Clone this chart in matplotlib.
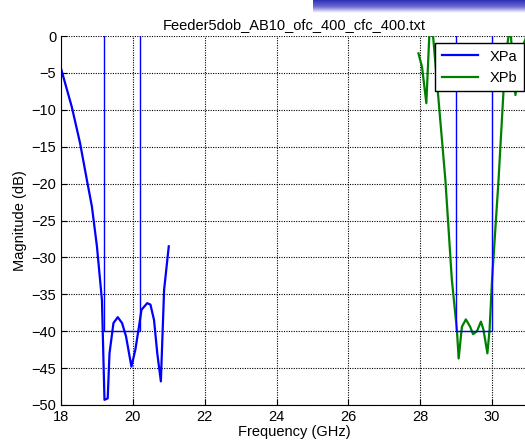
import numpy as np
import matplotlib.pyplot as plt

# XPa trace (GHz, dB)
freq_a = [18.0, 18.3, 18.53, 18.72, 18.86, 19.0, 19.14, 19.21, 19.30, 19.35, 19.46,
          19.58, 19.70, 19.81, 19.96, 20.07, 20.17, 20.24, 20.40, 20.49, 20.59,
          20.68, 20.78, 20.87, 21.0]
mag_a = [-4.4, -9.6, -14.5, -19.5, -23.1, -28.5, -35.8, -49.3, -49.1, -43.0, -38.9,
         -38.1, -38.9, -40.7, -44.8, -42.5, -39.4, -37.1, -36.2, -36.4, -38.5,
         -43.0, -46.8, -34.4, -28.5]

# XPb trace (GHz, dB)
freq_b = [27.95, 28.05, 28.17, 28.27, 28.34, 28.70, 28.88, 29.02, 29.07, 29.16, 29.27,
          29.39, 29.47, 29.58, 29.69, 29.76, 29.87, 29.93, 30.0, 30.18, 30.32,
          30.43, 30.5, 30.65, 30.86, 31.0]
mag_b = [-2.35, -4.2, -9.1, 2.0, 1.0, -19.5, -33.0, -39.8, -43.7, -39.4, -38.4,
         -39.4, -40.4, -40.0, -38.7, -39.8, -43.0, -39.8, -33.0, -19.5, -7.3,
         -1.0, 1.5, -8.0, -1.3, 0.5]

# mask templates
mask_lo = [(19.2, 20.2), (29.0, 30.0)]
mask_top = 0
mask_floor = -40

xticks = [18, 20, 22, 24, 26, 28, 30]
yticks = [0, -5, -10, -15, -20, -25, -30, -35, -40, -45, -50]

plt.rcParams['font.family'] = ['Liberation Sans', 'DejaVu Sans']

fig = plt.figure(figsize=(5.25, 4.43), dpi=100)

# window title bar fragment in top right
bar = fig.add_axes([313 / 525, 1 - 13 / 443, 212 / 525, 13 / 443])
grad = np.linspace(0, 1, 50).reshape(-1, 1)
bar.imshow(grad, aspect='auto', cmap=plt.cm.colors.LinearSegmentedColormap.from_list(
    'bar', ['#3030b8', '#6a6ad0', '#ffffff']), extent=[0, 1, 0, 1])
bar.axis('off')

ax = fig.add_axes([61 / 525, 1 - 405 / 443, 467 / 525, 369 / 443])

ax.plot(freq_a, mag_a, color=(0, 0, 1), lw=1.6, label='XPa')
ax.plot(freq_b, mag_b, color=(0, 0.5, 0), lw=1.6, label='XPb')

for f1, f2 in mask_lo:
    ax.plot([f1, f1, f2, f2], [mask_top, mask_floor, mask_floor, mask_top],
            color=(0, 0, 1), lw=1.0)

ax.set_xlim(18, 31)
ax.set_ylim(-50, 0)
ax.set_xticks(xticks)
ax.set_yticks(yticks)
ax.tick_params(direction='in', length=4, labelsize=10.5, top=False, right=False)
ax.spines['top'].set_visible(False)
ax.spines['right'].set_visible(False)
ax.grid(True, color='black', linestyle=(0, (1, 1.2)), lw=0.8)
ax.set_axisbelow(True)

ax.set_title('Feeder5dob_AB10_ofc_400_cfc_400.txt', fontsize=10.5, pad=5)
ax.set_xlabel('Frequency (GHz)', fontsize=10.5, labelpad=1)
ax.set_ylabel('Magnitude (dB)', fontsize=10.5, labelpad=3)

leg = ax.legend(loc='upper right', bbox_to_anchor=(524 / 525, 1 - 43 / 443),
                bbox_transform=fig.transFigure, borderaxespad=0, fancybox=False,
                framealpha=1, edgecolor='black', fontsize=10.5, handlelength=2.5,
                borderpad=0.45)
leg.get_frame().set_linewidth(1.0)

fig.savefig('out.png', dpi=100)
